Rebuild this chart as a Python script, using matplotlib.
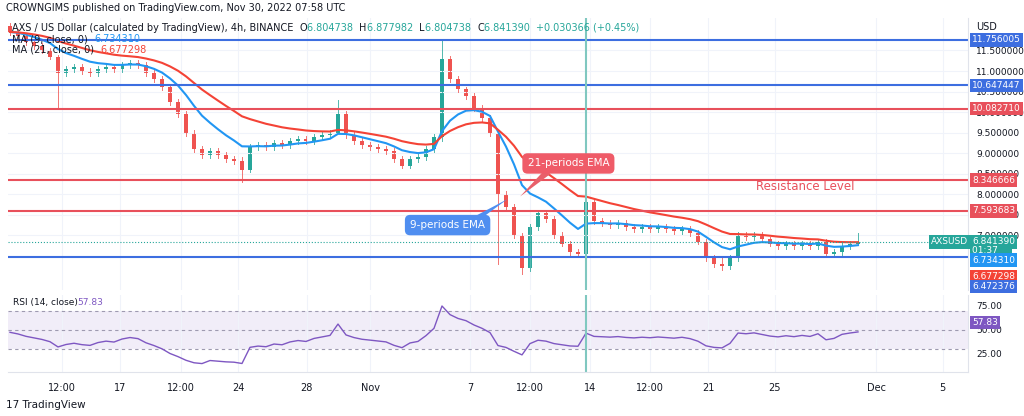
import matplotlib.pyplot as plt
import numpy as np
import pandas as pd
from matplotlib.patches import Rectangle

# 4h candles, close prices
closes = [11.95, 11.85, 11.70, 11.60, 11.50, 11.35, 10.95, 11.05, 11.10, 11.00,
          10.95, 11.05, 11.10, 11.05, 11.15, 11.20, 11.15, 10.95, 10.80, 10.60,
          10.25, 9.95, 9.50, 9.10, 8.95, 9.05, 8.95, 8.85, 8.80, 8.60,
          9.15, 9.20, 9.15, 9.25, 9.20, 9.30, 9.35, 9.30, 9.40, 9.45,
          9.50, 9.95, 9.45, 9.30, 9.20, 9.15, 9.10, 9.05, 8.85, 8.70,
          8.85, 8.90, 9.10, 9.40, 11.30, 10.80, 10.55, 10.40, 10.10, 9.85,
          9.50, 8.00, 7.70, 7.00, 6.20, 7.20, 7.55, 7.40, 7.00, 6.80,
          6.60, 6.55, 7.80, 7.35, 7.30, 7.25, 7.30, 7.20, 7.15, 7.20,
          7.15, 7.20, 7.15, 7.10, 7.15, 7.05, 6.85, 6.45, 6.30, 6.25,
          6.45, 7.00, 6.95, 7.00, 6.90, 6.80, 6.75, 6.80, 6.75, 6.80,
          6.75, 6.85, 6.55, 6.60, 6.75, 6.80, 6.84]
first_open = 12.10
# candles whose wicks stick out a lot: index -> (high, low)
spikes = {6: (11.40, 10.10), 29: (8.90, 8.30), 41: (10.30, 9.50), 54: (11.75, 9.30),
          61: (9.55, 6.30), 64: (7.05, 6.05), 72: (8.10, 6.10), 89: (6.50, 6.15),
          106: (7.05, 6.80)}

levels_blue = [11.756005, 10.647447, 6.472376]
levels_red = [10.082710, 8.346666, 7.593683]

tick_pos = [6.5, 13.75, 21.4, 28.5, 37.1, 45, 57.5, 65, 72.5, 80, 87.25, 95.6, 108.25, 116.6]
tick_lab = ["12:00", "17", "12:00", "24", "28", "Nov", "7", "12:00", "14", "12:00", "21", "25", "Dec", "5"]

GREEN = "#26a69a"
RED = "#ef5350"

c = np.array(closes)
o = np.concatenate(([first_open], c[:-1]))
hi = np.maximum(o, c) + 0.07
lo = np.minimum(o, c) - 0.07
for k, (h, l) in spikes.items():
    hi[k], lo[k] = h, l
s = pd.Series(c)
ema9 = s.ewm(span=9, adjust=False).mean()
ema21 = s.ewm(span=21, adjust=False).mean()

# Wilder RSI, seeded neutral since earlier history is off-chart
d = np.diff(c, prepend=first_open)
avg = np.abs(d).mean() / 2
up, dn = avg, avg
rsi = []
for v in d:
    up = (up * 13 + max(v, 0)) / 14
    dn = (dn * 13 + max(-v, 0)) / 14
    rsi.append(100 - 100 / (1 + up / dn))

W, H = 1024, 416
fig = plt.figure(figsize=(W / 100, H / 100), dpi=100)
fig.patch.set_facecolor("white")

def fx(px):
    return px / W

def fy(py):
    return 1 - py / H

ax = fig.add_axes([fx(8), fy(290), fx(960), (290 - 18) / H])
ax2 = fig.add_axes([fx(8), fy(372), fx(960), (372 - 295) / H])
xs = np.arange(len(c))
xlim = (-0.25, 119.75)

for i in xs:
    col = GREEN if c[i] >= o[i] else RED
    ax.plot([i, i], [lo[i], hi[i]], color=col, lw=0.7, alpha=0.8)
    ax.add_patch(Rectangle((i - 0.3, min(o[i], c[i])), 0.6, max(abs(c[i] - o[i]), 0.01),
                           color=col, lw=0))
ax.plot(xs, ema9, color="#2196f3", lw=1.5)
ax.plot(xs, ema21, color="#f44336", lw=1.5)
for lv in levels_blue:
    ax.axhline(lv, color="#3d6ee0", lw=1.5)
for lv in levels_red:
    ax.axhline(lv, color="#e8505b", lw=1.5)
ax.axhline(6.84139, color=GREEN, lw=0.8, ls=":")
ax.axvline(72, color="#80c8c0", lw=1.5)

ax.set_xlim(*xlim)
ax.set_ylim(5.67, 12.29)
ax.yaxis.tick_right()
ax.set_yticks(np.arange(7, 12, 0.5))
ax.set_yticklabels(["%.6f" % v for v in np.arange(7, 12, 0.5)], fontsize=6.5, color="#131722")
ax.tick_params(axis="y", length=0, pad=6)
ax.set_xticks(tick_pos)
ax.set_xticklabels([])
ax.tick_params(axis="x", length=0)
ax.grid(color="#f0f3fa", lw=0.8)
for sp in ["top", "left", "bottom"]:
    ax.spines[sp].set_visible(False)
ax.spines["right"].set_color("#e0e3eb")

# annotations
ax.text(0.83, 0.38, "Resistance Level", transform=ax.transAxes, color="#e8505b",
        fontsize=8.5, ha="center", va="center")
ax.annotate("", xy=(63.5, 7.9), xytext=(67.5, 8.6),
            arrowprops=dict(arrowstyle="wedge,tail_width=0.5", color="#e8606a", lw=0))
ax.annotate("", xy=(62.5, 7.92), xytext=(57, 7.25),
            arrowprops=dict(arrowstyle="wedge,tail_width=0.5", color="#4f8ef0", lw=0))
ax.text(69.8, 8.75, "21-periods EMA", color="white", fontsize=7.5, ha="center", va="center",
        bbox=dict(boxstyle="round,pad=0.5", fc="#ef5b68", ec="none"))
ax.text(54.7, 7.25, "9-periods EMA", color="white", fontsize=7.5, ha="center", va="center",
        bbox=dict(boxstyle="round,pad=0.5", fc="#4f8ef0", ec="none"))

# RSI pane
ax2.fill_between(xlim, 30, 70, color="#7e57c2", alpha=0.1, lw=0)
for lv in (70, 50, 30):
    ax2.axhline(lv, color="#9e9ab0", lw=0.8, ls=(0, (3, 3)))
ax2.plot(xs, rsi, color="#7e57c2", lw=1)
ax2.axvline(72, color="#80c8c0", lw=1.5)
ax2.set_xlim(*xlim)
ax2.set_ylim(6, 86.4)
ax2.yaxis.tick_right()
ax2.set_yticks([25, 50, 75])
ax2.set_yticklabels(["25.00", "50.00", "75.00"], fontsize=6.5, color="#131722")
ax2.tick_params(axis="y", length=0, pad=6)
ax2.set_xticks(tick_pos)
ax2.set_xticklabels(tick_lab, fontsize=7, color="#131722")
ax2.tick_params(axis="x", length=0, pad=8)
ax2.grid(axis="x", color="#f0f3fa", lw=0.8)
for sp in ["top", "left"]:
    ax2.spines[sp].set_visible(False)
ax2.spines["right"].set_color("#e0e3eb")
ax2.spines["bottom"].set_color("#e0e3eb")
ax2.text(0.005, 0.9, "RSI (14, close)", transform=ax2.transAxes, fontsize=6.5, color="#131722", va="center")
ax2.text(0.072, 0.9, "57.83", transform=ax2.transAxes, fontsize=6.5, color="#7e57c2", va="center")

# price labels on the right scale
def price_box(price, text, color, axis=ax):
    y = axis.transData.transform((0, price))[1] / H
    fig.text(fx(972), y, text, fontsize=6.5, color="white", va="center", ha="left",
             bbox=dict(boxstyle="square,pad=0.25", fc=color, ec="none"))

fig.canvas.draw()
price_box(11.756005, "11.756005", "#3d6ee0")
price_box(10.647447, "10.647447", "#3d6ee0")
price_box(10.082710, "10.082710", "#e8505b")
price_box(8.346666, "8.346666", "#e8505b")
price_box(7.593683, "7.593683", "#e8505b")
price_box(6.84139, "6.841390", GREEN)
price_box(6.62, "01:37    ", GREEN)
price_box(6.40, "6.734310", "#2196f3")
price_box(6.00, "6.677298", "#f44336")
price_box(5.75, "6.472376", "#3d6ee0")
price_box(57.83, "57.83", "#7e57c2", axis=ax2)
y_ax = ax.transData.transform((0, 6.84139))[1] / H
fig.text(fx(968), y_ax, "AXSUSD", fontsize=6.5, color="white", va="center", ha="right",
         bbox=dict(boxstyle="square,pad=0.25", fc=GREEN, ec="none"))
fig.text(fx(976), fy(27), "USD", fontsize=7, color="#131722", va="center")

# header
fig.text(fx(6), fy(8), "CROWNGIMS published on TradingView.com, Nov 30, 2022 07:58 UTC",
         fontsize=7, color="#131722", va="center")
hy = fy(28)
parts = [("AXS / US Dollar (calculated by TradingView), 4h, BINANCE  ", "#131722"),
         ("O", "#131722"), ("6.804738  ", GREEN), ("H", "#131722"), ("6.877982  ", GREEN),
         ("L", "#131722"), ("6.804738  ", GREEN), ("C", "#131722"), ("6.841390  ", GREEN),
         ("+0.030366 (+0.45%)", GREEN)]
xpos = 12
r = fig.canvas.get_renderer()
for txt, col in parts:
    tt = fig.text(fx(xpos), hy, txt, fontsize=7, color=col, va="center")
    xpos += tt.get_window_extent(r).width
for row, (lab, val, col) in enumerate([("MA (9, close, 0)  ", "6.734310", "#2196f3"),
                                       ("MA (21, close, 0)  ", "6.677298", "#f44336")]):
    yy = fy(39 + 11 * row)
    tt = fig.text(fx(12), yy, lab, fontsize=7, color="#131722", va="center")
    fig.text(fx(12 + tt.get_window_extent(r).width), yy, val, fontsize=7, color=col, va="center")

fig.text(fx(6), fy(405), "17 TradingView", fontsize=7.5, color="#131722", va="center")

fig.savefig("out.png", dpi=100)
